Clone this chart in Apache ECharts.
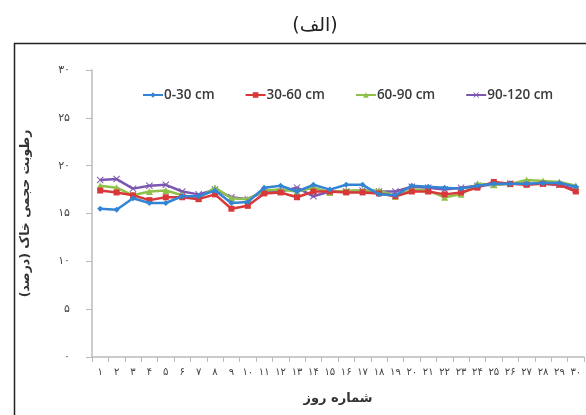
<!DOCTYPE html>
<html><head><meta charset="utf-8">
<script src="https://cdn.jsdelivr.net/npm/echarts@6/dist/echarts.min.js"></script>
<style>html,body{margin:0;padding:0;background:#fff}#c{width:586px;height:415px}</style>
</head><body><div id="c"></div>
<script>
const days = ['۱','۲','۳','۴','۵','۶','۷','۸','۹','۱۰','۱۱','۱۲','۱۳','۱۴','۱۵','۱۶','۱۷','۱۸','۱۹','۲۰','۲۱','۲۲','۲۳','۲۴','۲۵','۲۶','۲۷','۲۸','۲۹','۳۰'];
const yTickLabels = {0:'۰',5:'۵',10:'۱۰',15:'۱۵',20:'۲۰',25:'۲۵',30:'۳۰'};
const seriesNames = ['0-30 cm','30-60 cm','60-90 cm','90-120 cm'];
const d0_30   = [15.5,15.4,16.6,16.1,16.1,16.8,16.8,17.4,16.1,16.2,17.7,17.9,17.3,18.0,17.5,18.0,18.0,17.0,16.9,17.9,17.8,17.7,17.6,17.9,18.1,18.1,18.1,18.2,18.2,17.8];
const d30_60  = [17.4,17.2,16.9,16.4,16.7,16.7,16.5,17.0,15.5,15.8,17.1,17.2,16.7,17.3,17.3,17.2,17.2,17.1,16.8,17.3,17.3,17.0,17.2,17.7,18.3,18.1,18.0,18.1,18.0,17.3];
const d60_90  = [17.9,17.7,16.9,17.3,17.4,16.9,16.6,17.7,16.6,16.5,17.4,17.5,17.3,17.7,17.2,17.4,17.4,17.4,16.8,17.5,17.4,16.7,17.0,18.1,18.0,18.1,18.5,18.4,18.3,17.9];
const d90_120 = [18.5,18.6,17.6,17.9,18.0,17.3,17.0,17.5,16.7,16.5,17.3,17.3,17.7,16.8,17.3,17.3,17.4,17.3,17.3,17.8,17.7,17.5,17.7,17.9,18.0,18.1,18.1,18.1,18.0,17.5];
const colors = ['#3384d4','#d9383a','#8fc04a','#7c57b0'];
const xSym = 'path://M0,1L1,0L5,4L9,0L10,1L6,5L10,9L9,10L5,6L1,10L0,9L4,5Z';
const symbols = ['diamond','rect','triangle', xSym];
const symSizes = [6,6,7,7];
const data = [d0_30,d30_60,d60_90,d90_120];
const fa = 'DejaVu Sans';
const chart = echarts.init(document.getElementById('c'));
chart.setOption({
  animation:false,
  color: colors,
  title:{text:'(الف)', left:310, top:12, textAlign:'center', textStyle:{fontFamily:fa, fontSize:19, fontWeight:'normal', color:'#222'}},
  graphic:[{type:'rect', shape:{x:14.5,y:43.5,width:640,height:420}, style:{fill:'none', stroke:'#222', lineWidth:1.5}, silent:true}],
  legend:{left:137, top:83, itemGap:30, itemWidth:20, itemHeight:7,
    textStyle:{fontFamily:'Open Sans', fontSize:13.5, fontWeight:600, color:'#3a3a3a', padding:[0,0,0,-4]},
    data: seriesNames},
  grid:{left:92, right:2, top:70, bottom:58},
  xAxis:{type:'category', data:days, boundaryGap:true,
    name:'شماره روز', nameLocation:'middle', nameGap:35,
    nameTextStyle:{fontFamily:fa, fontSize:13, fontWeight:'bold', color:'#333'},
    axisLine:{lineStyle:{color:'#bbb', width:1.5}},
    axisTick:{show:true, length:5, lineStyle:{color:'#bbb'}, alignWithLabel:false},
    axisLabel:{interval:0, fontFamily:fa, fontSize:10, color:'#444', margin:10}},
  yAxis:{type:'value', min:0, max:30, interval:5,
    name:'رطوبت حجمی خاک (درصد)', nameLocation:'middle', nameGap:60, nameRotate:90,
    nameTextStyle:{fontFamily:fa, fontSize:12.5, fontWeight:'bold', color:'#333'},
    axisLine:{show:true, lineStyle:{color:'#bbb', width:1.5}},
    axisTick:{show:true, length:6, lineStyle:{color:'#bbb'}},
    splitLine:{show:false},
    axisLabel:{fontFamily:fa, fontSize:11, color:'#444', margin:22, formatter:v=>yTickLabels[v]}},
  series: data.map((d,i)=>({name:seriesNames[i], type:'line', data:d, symbol:symbols[i], symbolSize:symSizes[i],
    lineStyle:{width:2.5, color:colors[i]}, itemStyle:{color:colors[i]}, z: 10-i}))
});
</script></body></html>
